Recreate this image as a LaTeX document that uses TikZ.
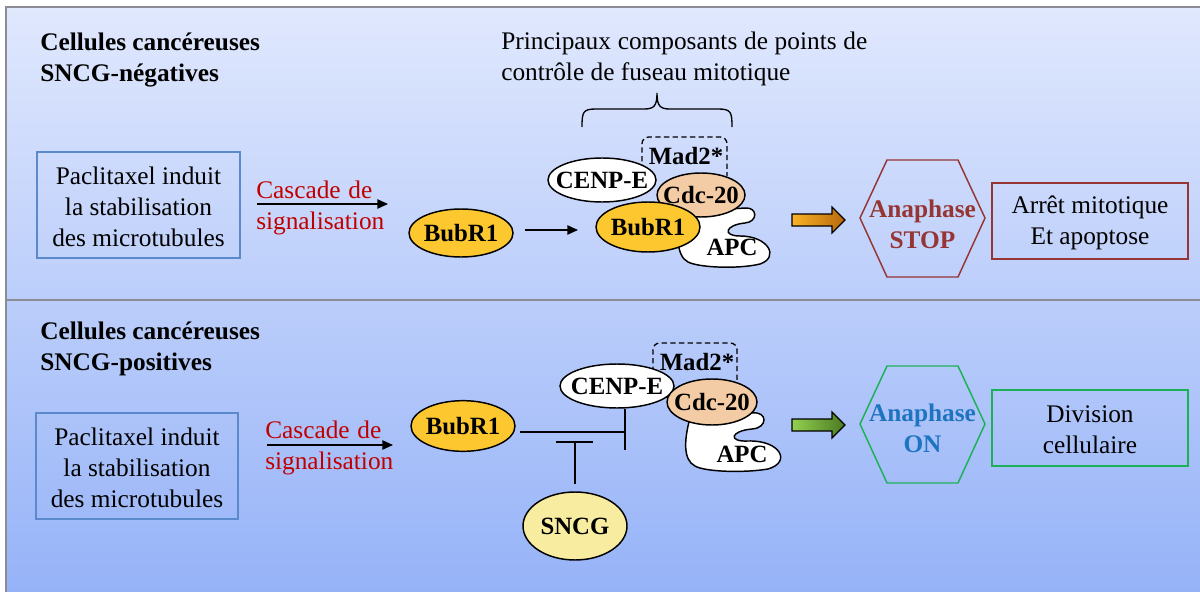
\documentclass[tikz,border=0pt]{standalone}
\usepackage{fontspec}
\setmainfont{Liberation Serif}
\usetikzlibrary{shapes.geometric,arrows.meta,calc}
\definecolor{bgtop}{HTML}{E0E8FD}
\definecolor{bgbot}{HTML}{96B3F8}
\definecolor{frame}{HTML}{8C8C96}
\definecolor{boxblue}{HTML}{5A8ACB}
\definecolor{casred}{HTML}{C00000}
\definecolor{bubfill}{HTML}{FDC82F}
\definecolor{cdcfill}{HTML}{F3CBA5}
\definecolor{sncgfill}{HTML}{F8ECA0}
\definecolor{stopred}{HTML}{963634}
\definecolor{ongreen}{HTML}{1DB157}
\definecolor{onblue}{HTML}{1F74C0}
\definecolor{orA}{HTML}{F9B324}
\definecolor{orB}{HTML}{B8680E}
\definecolor{grA}{HTML}{92D050}
\definecolor{grB}{HTML}{4A7A22}
\tikzset{
  fnt/.style={font=\fontsize{19}{23.25}\selectfont},
  txt/.style={fnt, inner sep=0pt, align=center},
  btxt/.style={font=\bfseries\fontsize{19}{23.25}\selectfont, inner sep=0pt, align=center},
  pbox/.style={draw=boxblue, line width=1.1pt, rectangle, inner sep=0pt},
  prot/.style={ellipse, draw=black, line width=1.1pt, inner sep=0pt},
  lbl/.style={font=\bfseries\fontsize{18.6}{23.25}\selectfont, inner sep=0pt},
  conn/.style={line width=1.1pt, draw=black},
  arr/.style={conn, -{Triangle[length=8pt,width=7pt]}},
}
\begin{document}
\begin{tikzpicture}[x=0.75pt,y=-0.75pt]
\useasboundingbox (0,0) rectangle (1200,592);
% background
\shade[top color=bgtop, bottom color=bgbot] (6,7) rectangle (1200,592);
\draw[frame, line width=1.3pt] (6,592) -- (6,7) -- (1200,7);
\draw[frame, line width=1.3pt] (6,300) -- (1200,300);

% ================= TOP PANEL =================
\node[btxt, align=left, anchor=west] (headA) at (40,60) {Cellules cancéreuses\\SNCG-négatives};
\node[txt, align=left, anchor=west] (title) at (501,59)
  {\makebox[274.5pt][s]{Principaux composants de points de}\\contrôle de fuseau mitotique};
\draw[conn, line width=1pt] (582,127) .. controls (582,112) and (583,109) .. (596,109) -- (644,109)
  .. controls (654,109) and (657,106) .. (657,93)
  .. controls (657,106) and (660,109) .. (670,109) -- (718,109)
  .. controls (731,109) and (732,112) .. (732,127);

\node[pbox, minimum width=152pt, minimum height=79.5pt] (paclA) at (138.5,205) {};
\node[txt] (paclAt) at ($(paclA.center)+(0,2)$) {\makebox[124pt][s]{Paclitaxel induit}\\la stabilisation\\des microtubules};

\node[txt, align=left, anchor=west, text=casred] (cascA) at (256,208) {\makebox[87pt][s]{Cascade de}\\signalisation};
\coordinate (cAs) at (257,204);
\coordinate (cAe) at (388,204);
\draw[arr] (cAs) -- (cAe);

\node[prot, fill=bubfill, minimum width=78pt, minimum height=36pt, label={[lbl]center:BubR1}] (bubA) at (461,233) {};
\coordinate (bAs) at (525,230);
\coordinate (bAe) at (578,230);
\draw[arr] (bAs) -- (bAe);

% complex
\draw[conn, line width=1pt, dash pattern=on 4pt off 2.5pt, rounded corners=5pt] (642,170) -- (642,137) -- (727,137) -- (727,176);
\filldraw[fill=white, draw=black, line width=1.1pt] (682,212) -- (745,208) .. controls (758,207) and (758,222) .. (745,223)
  .. controls (725,225) and (722,236) .. (740,236) .. controls (768,236) and (780,257) .. (760,264)
  .. controls (740,269) and (700,268) .. (688,262) .. controls (676,256) and (676,232) .. (682,212) -- cycle;
\node[lbl] (apcA) at (732,247) {APC};
\node[prot, fill=white, minimum width=81pt, minimum height=33pt, label={[lbl]center:CENP-E}] (cenpA) at (602,180) {};
\node[prot, fill=cdcfill, minimum width=66pt, minimum height=33pt, label={[lbl]center:Cdc-20}] (cdcA) at (701,195) {};
\node[prot, fill=bubfill, minimum width=78pt, minimum height=37.5pt, label={[lbl]center:BubR1}] (bubAc) at (648,227) {};
\node[lbl] (madA) at (686,156) {Mad2*};

\shadedraw[left color=orA, right color=orB, draw=black, line width=0.9pt]
  (792,214) -- (832,214) -- (832,207) -- (845,220) -- (832,233) -- (832,226) -- (792,226) -- cycle;

\draw[stopred, line width=1.1pt] (860,218) -- (887,160) -- (958,160) -- (985,218) -- (958,277) -- (887,277) -- cycle;
\node[btxt, text=stopred] (hexA) at (922.5,224) {Anaphase\\STOP};
\node[draw=stopred, line width=1.1pt, minimum width=147pt, minimum height=57pt, inner sep=0pt] (resA) at (1090,221) {};
\node[txt] at ($(resA.center)+(0,2)$) {Arrêt mitotique\\Et apoptose};

% ================= BOTTOM PANEL =================
\node[btxt, align=left, anchor=west] (headB) at (40,349) {Cellules cancéreuses\\SNCG-positives};

\node[pbox, minimum width=151.5pt, minimum height=79.5pt] (paclB) at (137,466) {};
\node[txt] (paclBt) at ($(paclB.center)+(0,2)$) {\makebox[124pt][s]{Paclitaxel induit}\\la stabilisation\\des microtubules};

\node[txt, align=left, anchor=west, text=casred] (cascB) at (265,448) {\makebox[87pt][s]{Cascade de}\\signalisation};
\coordinate (cBs) at (267,445);
\coordinate (cBe) at (393,445);
\draw[arr] (cBs) -- (cBe);

\node[prot, fill=bubfill, minimum width=78pt, minimum height=38pt, label={[lbl]center:BubR1}] (bubB) at (463,426) {};

\draw[conn, line width=1pt, dash pattern=on 4pt off 2.5pt, rounded corners=5pt] (653,372) -- (653,343) -- (737,343) -- (737,384);
\filldraw[fill=white, draw=black, line width=1.1pt] (690,418) -- (752,413) .. controls (768,411) and (768,428) .. (752,429)
  .. controls (730,431) and (728,442) .. (748,441) .. controls (780,440) and (792,462) .. (768,469)
  .. controls (745,473) and (705,472) .. (695,466) .. controls (683,460) and (684,440) .. (690,418) -- cycle;
\node[lbl] (apcB) at (742,454) {APC};
\node[prot, fill=white, minimum width=85.5pt, minimum height=33pt, label={[lbl]center:CENP-E}] (cenpB) at (617,386) {};
\node[prot, fill=cdcfill, minimum width=67.5pt, minimum height=34.5pt, label={[lbl]center:Cdc-20}] (cdcB) at (712,402) {};
\node[lbl] (madB) at (697,362) {Mad2*};

\node[prot, fill=sncgfill, minimum width=78pt, minimum height=51pt, label={[lbl]center:SNCG}] (sncg) at (575,526) {};

\coordinate (j1) at (520,432);
\coordinate (j2) at (625,432);
\coordinate (j3) at (625,450);
\draw[conn] (j1) -- (j2);
\draw[conn] (cenpB.south -| j2) -- (j3);
\coordinate (t1) at (556,442);
\coordinate (t2) at (593,442);
\coordinate (t3) at (575,442);
\coordinate (t4) at (575,484);
\draw[conn] (t1) -- (t2);
\draw[conn] (t3) -- (t4);

\shadedraw[left color=grA, right color=grB, draw=black, line width=0.9pt]
  (792,419) -- (832,419) -- (832,412) -- (845,425) -- (832,438) -- (832,431) -- (792,431) -- cycle;

\draw[ongreen, line width=1.1pt] (860,424) -- (887,366) -- (958,366) -- (985,424) -- (958,483) -- (887,483) -- cycle;
\node[btxt, text=onblue] (hexB) at (922.5,428) {Anaphase\\ON};
\node[draw=ongreen, line width=1.1pt, minimum width=147pt, minimum height=57pt, inner sep=0pt] (resB) at (1090,428) {};
\node[txt] at ($(resB.center)+(0,2)$) {Division\\cellulaire};
\end{tikzpicture}
\end{document}
